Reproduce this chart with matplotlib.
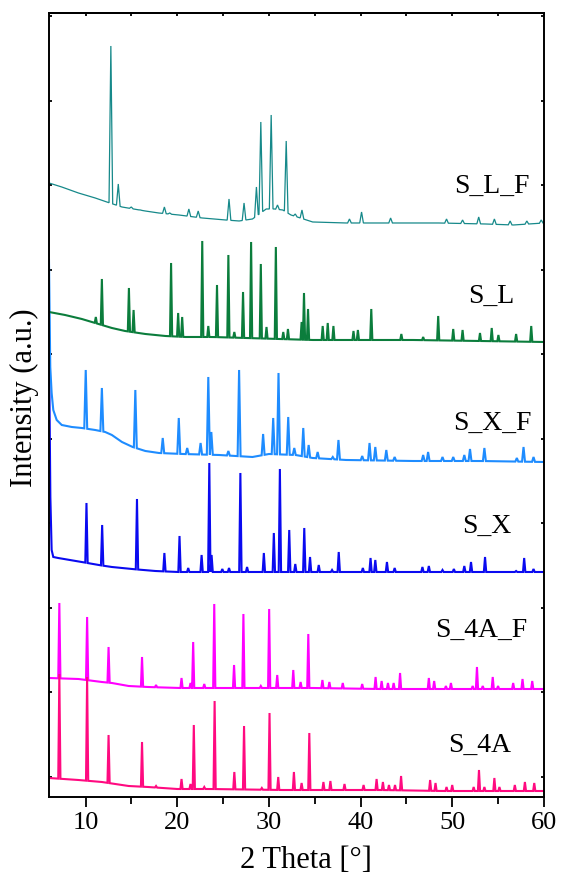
import numpy as np
import matplotlib.pyplot as plt
from matplotlib.ticker import MultipleLocator

plt.rcParams['font.family'] = ['Liberation Serif', 'DejaVu Serif']

# === stacked XRD patterns (2 Theta in deg, intensity in a.u. incl. offset) ===
# baseline knots and peak tops

# S_L_F
slf_base_x = [6.0, 7.39, 9.21, 11.04, 12.31, 13.96, 16.5, 17.97, 20.16, 22.72, 25.27, 26.74,
              28.2, 29.7, 30.6, 31.5, 32.4, 34.77, 38.42, 42.07, 45.72, 48.5, 53.6, 56.67, 60.0]
slf_base_y = [614, 610, 604, 599, 595, 590, 586, 584, 582, 579, 577, 576,
              578, 588, 588, 587, 582, 575, 574, 574, 574, 574, 573, 572, 574]
slf_peak_x = [12.75, 13.56, 14.98, 15.97, 18.59, 19.18, 21.26, 22.28, 25.64, 27.28, 28.63, 29.11,
              30.24, 30.93, 31.88, 32.87, 33.6, 38.78, 40.1, 43.27, 49.37, 51.12, 52.88, 54.59,
              56.31, 58.13, 59.7]
slf_peak_y = [751, 613, 590, 587, 590, 584, 588, 586, 598, 594, 610, 675,
              682, 592, 656, 583, 587, 578, 585, 579, 578, 577, 580, 578,
              576, 576, 577]

# S_L
sl_base_x = [6.0, 7.75, 9.58, 11.04, 12.86, 14.3, 16.51, 18.7, 20.9, 23.8, 27.5, 31.1,
             34.8, 38.4, 45.7, 53.0, 60.0]
sl_base_y = [485, 482, 478, 474, 469, 466, 463, 461, 460, 460, 459, 458,
             457, 457, 457, 456, 455]
sl_peak_x = [11.11, 11.77, 14.72, 15.23, 19.32, 20.09, 20.53, 22.72, 23.38, 24.33, 25.57, 26.22,
             27.17, 28.05, 29.11, 29.73, 30.75, 31.56, 32.07, 33.56, 33.82, 34.26, 35.86, 36.41,
             37.03, 39.22, 39.7, 41.16, 44.44, 46.82, 48.46, 50.1, 51.12, 53.02, 54.3, 55.03,
             56.96, 58.61]
sl_peak_y = [480, 518, 509, 487, 534, 484, 480, 556, 471, 512, 542, 465,
             505, 555, 533, 470, 550, 465, 468, 475, 504, 488, 471, 474,
             471, 466, 467, 488, 463, 460, 481, 468, 467, 464, 469, 462,
             463, 471]

# S_X_F
sxf_base_x = [6.0, 6.14, 6.29, 6.47, 6.84, 7.39, 8.48, 9.58, 11.04, 12.13, 12.86, 13.96,
              15.13, 16.51, 18.0, 20.6, 24.55, 28.2, 30.0, 32.9, 34.77, 38.42, 45.72, 53.02, 60.0]
sxf_base_y = [537, 430, 404, 387, 377, 372, 370, 369, 367, 365, 362, 355,
              350, 346, 344, 343, 342, 340, 343, 342, 339, 337, 336, 336, 335]
sxf_peak_x = [10.01, 11.77, 15.42, 18.41, 20.16, 21.08, 22.54, 23.38, 23.71, 25.57, 26.74, 29.36,
              30.46, 31.04, 32.1, 32.76, 33.74, 34.33, 35.31, 36.96, 37.58, 40.17, 40.97, 41.6,
              42.8, 43.71, 46.82, 47.36, 48.93, 50.1, 51.31, 51.93, 53.5, 57.04, 57.77, 58.86]
sxf_peak_y = [427, 409, 407, 359, 379, 349, 354, 420, 365, 346, 427, 363,
              379, 424, 380, 349, 369, 352, 345, 340, 357, 341, 354, 350,
              347, 340, 342, 345, 340, 340, 342, 348, 349, 339, 350, 340]

# S_X
sx_base_x = [6.0, 6.15, 6.29, 6.47, 7.0, 9.58, 11.4, 12.86, 15.0, 17.6, 20.0, 23.0,
             27.0, 34.8, 42.1, 49.4, 60.0]
sx_base_y = [457, 300, 247, 240, 239, 235, 232, 230, 228, 226, 225, 225,
             225, 225, 225, 225, 225]
sx_peak_x = [10.09, 11.8, 15.6, 18.59, 20.24, 21.19, 22.65, 23.49, 23.74, 24.91, 25.64, 26.88,
             27.61, 29.44, 30.53, 31.19, 32.21, 32.87, 33.85, 34.48, 35.43, 36.88, 37.61, 40.24,
             41.08, 41.6, 42.87, 43.71, 46.74, 47.44, 48.93, 50.17, 51.31, 52.04, 53.57, 56.96,
             57.84, 58.86]
sx_peak_y = [294, 272, 298, 244, 261, 229, 242, 334, 242, 228, 229, 324,
             230, 244, 264, 328, 267, 233, 269, 240, 232, 227, 245, 229,
             239, 237, 235, 229, 230, 231, 227, 228, 231, 235, 240, 226,
             239, 228]

# S_4A_F
s4af_base_x = [6.0, 9.21, 11.77, 12.86, 14.69, 16.8, 20.0, 27.5, 34.8, 42.1, 49.0, 60.0]
s4af_base_y = [119, 118, 115, 114, 111, 110, 109, 109, 109, 108, 108, 108]
s4af_peak_x = [7.13, 10.16, 12.5, 16.15, 17.68, 20.46, 21.44, 21.73, 22.94, 24.03, 26.19, 27.21,
               29.11, 30.02, 30.9, 32.65, 33.45, 34.29, 35.83, 36.59, 38.05, 40.17, 41.63, 42.29,
               42.98, 43.6, 44.3, 47.44, 48.02, 49.3, 49.85, 52.22, 52.69, 53.32, 54.41, 54.99,
               56.64, 57.66, 58.72]
s4af_peak_y = [194, 180, 150, 140, 112, 119, 114, 155, 113, 193, 132, 183,
               111, 188, 122, 127, 115, 163, 117, 115, 114, 113, 120, 116,
               114, 114, 124, 119, 116, 111, 114, 111, 130, 111, 120, 111,
               114, 118, 116]

# S_4A
s4a_base_x = [6.0, 9.21, 11.77, 14.69, 16.8, 20.0, 23.5, 31.5, 42.1, 49.0, 60.0]
s4a_base_y = [19, 17, 15, 11, 10, 8, 8, 7, 7, 6, 6]
s4a_peak_x = [7.13, 10.16, 12.5, 16.15, 17.68, 20.46, 21.44, 21.8, 22.94, 24.07, 26.22, 27.28,
              29.22, 30.06, 31.01, 32.72, 33.56, 34.4, 35.94, 36.7, 38.24, 40.32, 41.74, 42.43,
              43.09, 43.75, 44.41, 47.58, 48.17, 49.37, 49.99, 52.33, 52.91, 53.5, 54.59, 55.14,
              56.82, 57.92, 58.94]
s4a_peak_y = [123, 120, 62, 55, 11, 18, 13, 72, 10, 96, 25, 71,
              9, 84, 20, 25, 14, 64, 15, 16, 13, 12, 18, 15,
              12, 12, 21, 17, 14, 10, 12, 10, 27, 10, 19, 10,
              12, 15, 14]

labels = ['S_4A', 'S_4A_F', 'S_X', 'S_X_F', 'S_L', 'S_L_F']


def trace(bx, by, px, py, hw):
    # polyline: baseline knots + one spike (foot, top, foot) per peak
    bx, by = np.asarray(bx, float), np.asarray(by, float)
    px, py = np.asarray(px, float), np.asarray(py, float)
    keep = ~np.any(np.abs(bx[:, None] - px[None, :]) < hw, axis=1)
    fl, fr = px - hw, px + hw
    x = np.concatenate([bx[keep], fl, px, fr])
    y = np.concatenate([by[keep], np.interp(fl, bx, by), py, np.interp(fr, bx, by)])
    o = np.argsort(x, kind='stable')
    return x[o], y[o]


series = [
    (s4af_base_x, s4af_base_y, s4af_peak_x, s4af_peak_y, 0.12, '#FF00FF', 1.5),
    (s4a_base_x, s4a_base_y, s4a_peak_x, s4a_peak_y, 0.12, '#FF0A80', 1.5),
    (sx_base_x, sx_base_y, sx_peak_x, sx_peak_y, 0.13, '#0A0AF0', 1.5),
    (sxf_base_x, sxf_base_y, sxf_peak_x, sxf_peak_y, 0.16, '#1E8CFF', 1.5),
    (sl_base_x, sl_base_y, sl_peak_x, sl_peak_y, 0.12, '#0B7D3C', 1.5),
    (slf_base_x, slf_base_y, slf_peak_x, slf_peak_y, 0.2, '#16898A', 0.9),
]

fig = plt.figure(figsize=(5.63, 8.83), dpi=100)
ax = fig.add_axes([0.0870, 0.0974, 0.8792, 0.8879])

for bx, by, px, py, hw, col, lw in series:
    x, y = trace(bx, by, px, py, hw)
    ax.plot(x, y, color=col, lw=lw, solid_joinstyle='miter')

# sample names
name_pos = {'S_L_F': (54.3, 604), 'S_L': (54.2, 494), 'S_X_F': (54.4, 367),
            'S_X': (53.75, 264), 'S_4A_F': (53.2, 160), 'S_4A': (53.0, 45)}
for name in labels:
    tx, ty = name_pos[name]
    ax.text(tx, ty, name, fontsize=20, ha='center', va='baseline')

ax.set_xlim(6, 60)
ax.set_ylim(0, 784)
ax.xaxis.set_major_locator(MultipleLocator(10))
ax.xaxis.set_minor_locator(MultipleLocator(5))
ax.tick_params(axis='x', which='major', direction='out', length=7.5, width=1.3,
               labelsize=19, pad=3)
ax.tick_params(axis='x', which='minor', direction='out', length=5, width=1.3)
ax.set_yticks(np.arange(20, 784, 84.5))
ax.tick_params(axis='y', direction='in', length=2.5, width=1.3, left=True, right=True,
               labelleft=False)

top = ax.secondary_xaxis('top')
top.xaxis.set_major_locator(MultipleLocator(10))
top.xaxis.set_minor_locator(MultipleLocator(5))
top.tick_params(which='both', direction='in', length=2.5, width=1.3, labeltop=False)

for sp in list(ax.spines.values()) + list(top.spines.values()):
    sp.set_linewidth(1.4)

ax.set_xlabel('2 Theta [°]', fontsize=22)
ax.xaxis.set_label_coords(0.519, -0.0625)
ax.set_ylabel('Intensity (a.u.)', fontsize=22)
ax.yaxis.set_label_coords(-0.021, 0.509)

fig.savefig('out.png', dpi=100)
